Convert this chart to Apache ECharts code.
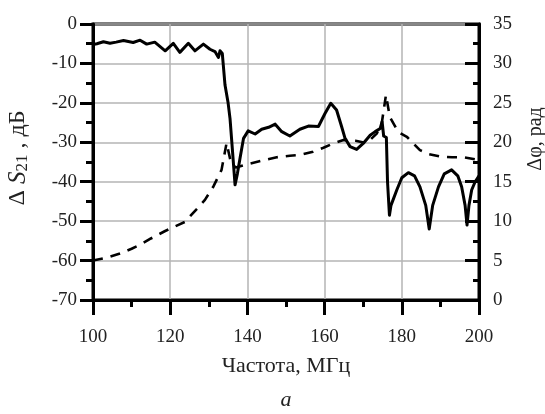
<!DOCTYPE html>
<html>
<head>
<meta charset="utf-8">
<script src="https://cdn.jsdelivr.net/npm/echarts@6/dist/echarts.min.js"></script>
<style>
  html, body { margin: 0; padding: 0; background: #fff; }
  #chart { width: 545px; height: 414px; }
</style>
</head>
<body>
<div id="chart"></div>
<script>
// ΔS21 (dB), solid line
const freqS = [100, 101, 102.7, 104.4, 106, 107.9, 110.4, 112.2, 113.9, 116, 118.7, 120.8, 122.5, 124.7, 126.4, 128.6, 130.3, 131.6, 132.5, 132.9, 133.5,
  134.2, 135, 135.5, 136.2, 136.8, 137.4, 138.1, 139, 140.2, 142, 143.7, 145.5, 147.2, 148.9, 151, 153.6, 155.8, 158.4, 160.1, 161.6, 163.1, 164.4,
  165.3, 166.6, 168.3, 170, 171.8, 173.1, 174.4, 174.9, 175.3, 176, 176.3, 176.8, 177.2, 178.7, 180, 181.7, 183.3, 184.7, 186.2, 187.1, 188, 189.5,
  191, 192.9, 194.5, 195.5, 196.4, 196.9, 197.4, 198.1, 199, 200];
const s21 = [-5.2, -5.0, -4.5, -4.9, -4.6, -4.2, -4.7, -4.1, -5.1, -4.6, -6.8, -4.9, -7.2, -4.9, -6.8, -5.1, -6.4, -7.0, -8.5, -6.8, -7.5,
  -15.5, -20, -24, -33, -40.8, -38, -34, -29, -27.1, -27.9, -26.7, -26.2, -25.4, -27.3, -28.4, -26.7, -25.9, -26.0, -22.7, -20.1, -21.8, -26.0,
  -29.0, -31.1, -31.8, -30.3, -28.2, -27.3, -26.5, -24.8, -28.4, -28.8, -40, -48.5, -46, -42.1, -39, -37.7, -38.5, -41.3, -46, -52.0, -46, -41.3,
  -38, -37.0, -38.5, -41.3, -46, -51, -46, -42.1, -40, -38.5];

// Δφ (rad), dashed line
const freqP = [100, 103, 107, 110, 112.2, 115, 118.7, 122, 123.8, 125.1, 127, 129, 131.2, 133.3, 134.6, 135.8, 137, 140.7, 144, 147.6, 151,
  153.6, 157, 159.7, 162, 164.9, 168, 170.9, 173.5, 174.8, 175.9, 176.9, 179.1, 181.3, 184.7, 187, 189.9, 193, 195.9, 199.4, 200];
const phase = [5.0, 5.3, 5.9, 6.5, 7.0, 7.8, 8.75, 9.5, 9.9, 10.6, 11.6, 12.7, 14.4, 16.5, 19.9, 17.3, 16.8, 17.3, 17.7, 18.1, 18.3,
  18.4, 18.8, 19.3, 19.8, 20.3, 20.2, 19.9, 21.1, 22.4, 26.0, 23.2, 21.3, 20.7, 19.0, 18.5, 18.2, 18.1, 18.1, 17.8, 17.7];

const xTicks = [100, 120, 140, 160, 180, 200];
const leftTicks = [0, -10, -20, -30, -40, -50, -60, -70];
const rightTicks = [0, 5, 10, 15, 20, 25, 30, 35];

const FONT = "'Liberation Serif', 'DejaVu Serif', serif";
const TXT = "#222";

const chart = echarts.init(document.getElementById("chart"));

const options = {
  animation: false,
  backgroundColor: "#fff",
  grid: {
    left: 93, right: 66, top: 24, bottom: 114,
    show: true, borderColor: "#000", borderWidth: 3, backgroundColor: "transparent"
  },
  xAxis: {
    type: "value",
    min: xTicks[0], max: xTicks[xTicks.length - 1], interval: 20,
    axisLine: { onZero: false, lineStyle: { color: "#000", width: 3 } },
    axisTick: { length: 15, lineStyle: { color: "#000", width: 3 } },
    minorTick: { show: true, splitNumber: 2, length: 7, lineStyle: { color: "#000", width: 3 } },
    axisLabel: { margin: 28, fontFamily: FONT, fontSize: 19, color: TXT },
    splitLine: { show: true, lineStyle: { color: "#b5b5b5", width: 1.5 } }
  },
  yAxis: [
    {
      type: "value",
      min: leftTicks[leftTicks.length - 1], max: leftTicks[0], interval: 10,
      axisLine: { show: true, onZero: false, lineStyle: { color: "#000", width: 3 } },
      axisTick: { show: true, length: 13, lineStyle: { color: "#000", width: 3 } },
      minorTick: { show: true, splitNumber: 2, length: 7, lineStyle: { color: "#000", width: 3 } },
      axisLabel: { margin: 16, fontFamily: FONT, fontSize: 19, color: TXT },
      splitLine: { show: true, lineStyle: { color: "#b5b5b5", width: 1.5 } }
    },
    {
      type: "value",
      position: "right",
      min: rightTicks[0], max: rightTicks[rightTicks.length - 1], interval: 5,
      axisLine: { show: true, onZero: false, lineStyle: { color: "#000", width: 3 } },
      axisTick: { show: true, inside: true, length: 14, lineStyle: { color: "#000", width: 3 } },
      minorTick: { show: true, splitNumber: 2, length: 6, lineStyle: { color: "#000", width: 3 } },
      axisLabel: { margin: 14, fontFamily: FONT, fontSize: 19, color: TXT },
      splitLine: { show: false }
    }
  ],
  graphic: [
    {
      type: "text", x: 18, y: 158, rotation: Math.PI / 2,
      style: {
        text: "{n|Δ }{s|S}{b|21}{n| , дБ}",
        align: "center", verticalAlign: "middle", fill: TXT,
        rich: {
          n: { fontFamily: FONT, fontSize: 24, fill: TXT },
          s: { fontFamily: FONT, fontSize: 25, fontStyle: "italic", fill: TXT },
          b: { fontFamily: FONT, fontSize: 17, fill: TXT, verticalAlign: "bottom", padding: [9, 0, 0, 0] }
        }
      }
    },
    {
      type: "text", x: 536, y: 139, rotation: Math.PI / 2,
      style: { text: "Δφ, рад", align: "center", verticalAlign: "middle", fill: TXT, font: "20px " + FONT }
    },
    {
      type: "text", x: 286, y: 366,
      style: { text: "Частота, МГц", align: "center", verticalAlign: "middle", fill: TXT, font: "22px " + FONT }
    },
    {
      type: "text", x: 286, y: 400,
      style: { text: "a", align: "center", verticalAlign: "middle", fill: TXT, font: "italic 22px " + FONT }
    }
  ],
  series: [
    {
      name: "phase",
      type: "line",
      yAxisIndex: 1,
      data: freqP.map((f, i) => [f, phase[i]]),
      showSymbol: false,
      lineStyle: { color: "#000", width: 2.6, type: [10, 8] },
      z: 2
    },
    {
      name: "s21",
      type: "line",
      yAxisIndex: 0,
      data: freqS.map((f, i) => [f, s21[i]]),
      showSymbol: false,
      lineStyle: { color: "#000", width: 3, join: "round" },
      z: 3
    }
  ]
};
chart.setOption(options);
</script>
</body>
</html>
